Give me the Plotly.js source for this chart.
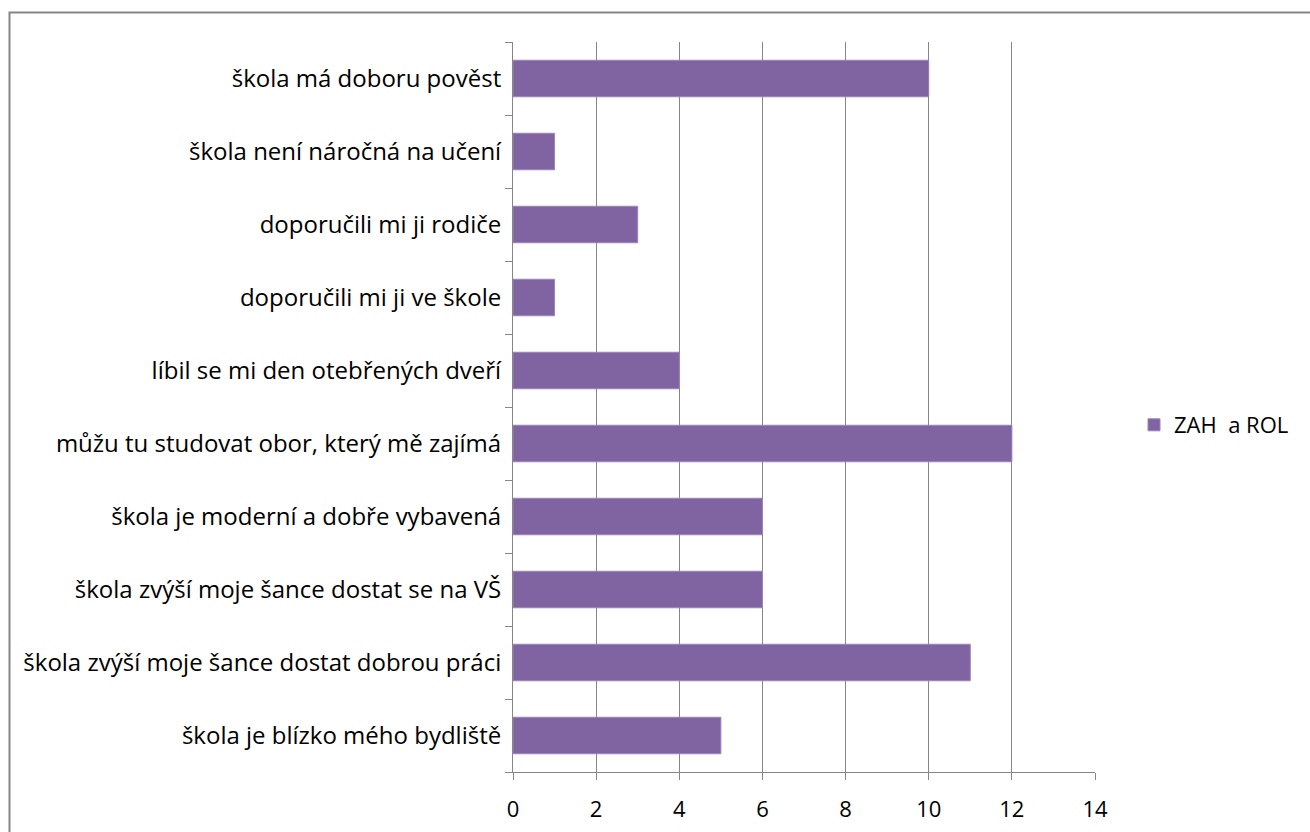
<!DOCTYPE html>
<html>
<head>
<meta charset="utf-8">
<script src="https://cdn.plot.ly/plotly-3.0.1.min.js"></script>
<style>html,body{margin:0;padding:0;background:#fff;} #chart{width:1310px;height:832px;}</style>
</head>
<body>
<div id="chart"></div>
<script>
// categories listed bottom to top
const categories = [
  "škola je blízko mého bydliště",
  "škola zvýší moje šance dostat dobrou práci",
  "škola zvýší moje šance dostat se na VŠ",
  "škola je moderní a dobře vybavená",
  "můžu tu studovat obor, který mě zajímá",
  "líbil se mi den otebřených dveří",
  "doporučili mi ji ve škole",
  "doporučili mi ji rodiče",
  "škola není náročná na učení",
  "škola má doboru pověst"
];
const values = [5, 11, 6, 6, 12, 4, 1, 3, 1, 10];
const seriesName = "ZAH\u00a0\u00a0a ROL";
const xTicks = [0, 2, 4, 6, 8, 10, 12, 14];

const L = 513, R = 1095, T = 42, B = 772;
const px = v => (v - L) / (R - L);
const py = v => (B - v) / (B - T);

const trace = {
  type: 'bar',
  orientation: 'h',
  x: values,
  y: categories,
  name: seriesName,
  marker: {color: '#8064A2', line: {color: '#9a84b8', width: 1}},
  showlegend: true,
  hoverinfo: 'x+y'
};

const layout = {
  width: 1310, height: 832,
  margin: {l: L, r: 1310 - R, t: T, b: 832 - B, pad: 0},
  paper_bgcolor: '#ffffff',
  plot_bgcolor: '#ffffff',
  font: {family: '"Open Sans", sans-serif', size: 22, color: '#000'},
  bargap: 0.5,
  showlegend: true,
  legend: {
    x: px(1134), y: py(425), xanchor: 'left', yanchor: 'middle',
    font: {size: 22, color: '#000'}, bgcolor: 'rgba(0,0,0,0)'
  },
  xaxis: {
    range: [0, 14], tickmode: 'array', tickvals: xTicks, ticktext: xTicks.map(String),
    showgrid: true, gridcolor: '#868686', gridwidth: 1,
    showline: true, linecolor: '#868686', linewidth: 1,
    ticks: 'outside', ticklen: 7, tickcolor: '#868686',
    zeroline: false, tickfont: {size: 22}, fixedrange: true, ticklabelstandoff: 11
  },
  yaxis: {
    type: 'category',
    showline: true, linecolor: '#868686', linewidth: 1,
    ticks: 'outside', ticklen: 7, tickcolor: '#868686', tickson: 'boundaries',
    showgrid: false, zeroline: false, ticklabelstandoff: 6,
    tickfont: {size: 24}, fixedrange: true
  },
  shapes: [{
    type: 'path', xref: 'paper', yref: 'paper',
    path: `M ${px(9.5)},${py(840)} L ${px(9.5)},${py(12.5)} L ${px(1320)},${py(12.5)}`,
    line: {color: '#868686', width: 2}
  }]
};

Plotly.newPlot('chart', [trace], layout, {displayModeBar: false, staticPlot: true});
</script>
</body>
</html>
